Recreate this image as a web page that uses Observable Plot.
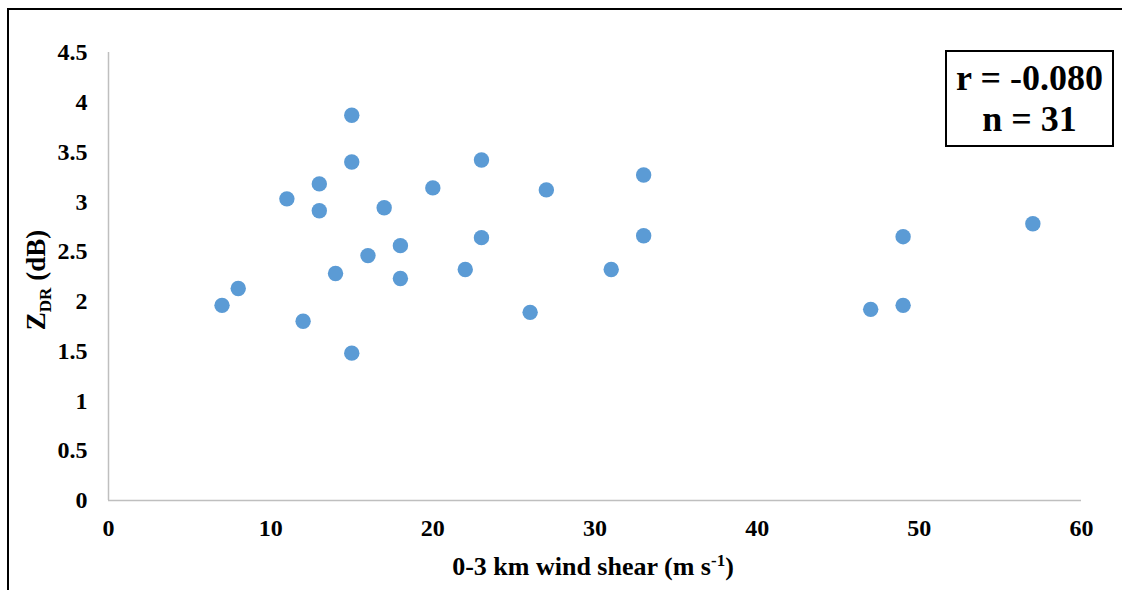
<!DOCTYPE html>
<html>
<head>
<meta charset="utf-8">
<script src="https://cdn.jsdelivr.net/npm/d3@7"></script>
<script src="https://cdn.jsdelivr.net/npm/@observablehq/plot@0.6"></script>
<style>
  html, body { margin: 0; padding: 0; background: #fff; }
  #wrap { position: relative; width: 1122px; height: 590px; overflow: hidden; }
  #frame { position: absolute; left: 7px; top: 8px; width: 1200px; height: 700px;
           border-left: 2px solid #000; border-top: 2px solid #000; box-sizing: border-box; }
  #stats { position: absolute; left: 945px; top: 50px; width: 169px; height: 97px;
           border: 2px solid #000; box-sizing: border-box; background: #fff;
           font-family: "Liberation Serif", "Times New Roman", serif; font-weight: bold;
           font-size: 36px; line-height: 41px; text-align: center; color: #000;
           display: flex; flex-direction: column; justify-content: center; }
  #chart { position: absolute; left: 0; top: 0; }
</style>
</head>
<body>
<div id="wrap">
  <div id="frame"></div>
  <div id="chart"></div>
  <div id="stats"><div>r = -0.080</div><div>n = 31</div></div>
</div>
<script>
// 0-3 km wind shear (m s-1) and ZDR (dB) for each case
const shear = [15, 15, 23, 13, 11, 13, 20, 17, 18, 23, 16, 14, 18, 22, 8, 7, 12, 15,
               27, 33, 33, 31, 26, 49, 57, 47, 49];
const zdr = [3.87, 3.40, 3.42, 3.18, 3.03, 2.91, 3.14, 2.94, 2.56, 2.64, 2.46, 2.28, 2.23, 2.32, 2.13, 1.96, 1.80, 1.48,
             3.12, 3.27, 2.66, 2.32, 1.89, 2.65, 2.78, 1.92, 1.96];

const xTicks = [0, 10, 20, 30, 40, 50, 60];
const yTicks = [0, 0.5, 1, 1.5, 2, 2.5, 3, 3.5, 4, 4.5];

const points = shear.map((s, i) => ({shear: s, zdr: zdr[i]}));

const serif = "'Liberation Serif', 'Times New Roman', serif";
const font = {fontFamily: serif, fontWeight: "bold", fontSize: "24px", color: "#000"};

const svg = Plot.plot({
  width: 1122,
  height: 590,
  marginLeft: 108,
  marginRight: 41,
  marginTop: 52,
  marginBottom: 90,
  style: {...font, background: "transparent", overflow: "visible"},
  x: {domain: [0, 60]},
  y: {domain: [0, 4.5]},
  marks: [
    Plot.ruleX([0], {stroke: "#bfbfbf", strokeWidth: 1.5}),
    Plot.ruleY([0], {stroke: "#bfbfbf", strokeWidth: 1.5}),
    Plot.dot(points, {x: "shear", y: "zdr", r: 7.7, fill: "#5b9bd5", stroke: "none"}),
    Plot.axisX({ticks: xTicks, tickSize: 0, tickPadding: 18, tickFormat: d => String(d), label: null, fill: "#000"}),
    Plot.axisY({ticks: yTicks, tickSize: 0, tickPadding: 21, tickFormat: d => String(d), label: null, fill: "#000"})
  ]
});

document.getElementById("chart").appendChild(svg);

// Axis titles with sub/superscripts
const s = d3.select(svg);
const xl = s.append("text")
  .attr("x", 593).attr("y", 575)
  .attr("text-anchor", "middle")
  .attr("fill", "#000")
  .style("font-size", "26px").style("font-weight", "bold")
  .style("font-family", serif);
xl.append("tspan").text("0-3 km wind shear (m s");
xl.append("tspan").attr("dy", -9).style("font-size", "17px").text("-1");
xl.append("tspan").attr("dy", 9).text(")");

const yl = s.append("text")
  .attr("transform", "translate(45,280) rotate(-90)")
  .attr("text-anchor", "middle")
  .attr("fill", "#000")
  .style("font-size", "27px").style("font-weight", "bold")
  .style("font-family", serif);
yl.append("tspan").text("Z");
yl.append("tspan").attr("dy", 6).style("font-size", "17px").text("DR");
yl.append("tspan").attr("dy", -6).text(" (dB)");
</script>
</body>
</html>
